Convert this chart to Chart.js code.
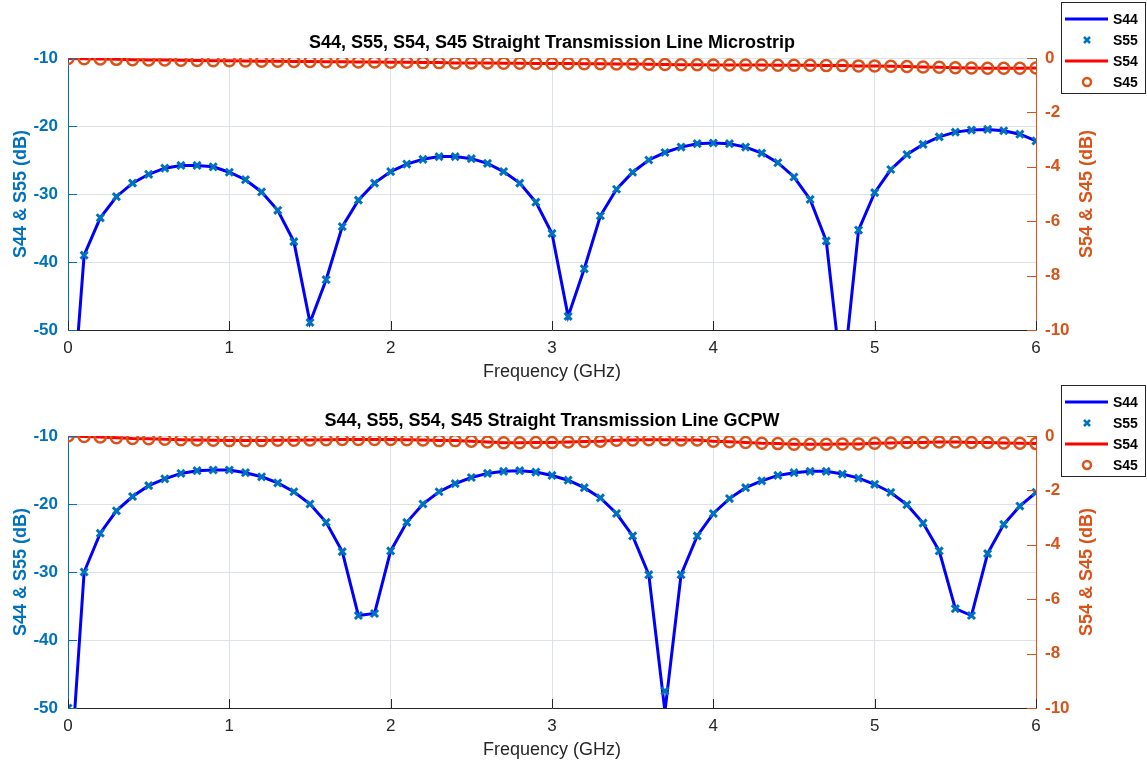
<!DOCTYPE html>
<html>
<head>
<meta charset="utf-8">
<script src="https://cdn.jsdelivr.net/npm/chart.js@4.4.0/dist/chart.umd.min.js"></script>
<style>
  html, body { margin: 0; padding: 0; background: #fff; }
  .box { position: absolute; left: 0; width: 1147px; }
</style>
</head>
<body>
<div class="box" style="top:0;height:383px"><canvas id="microstrip"></canvas></div>
<div class="box" style="top:383px;height:382px"><canvas id="gcpw"></canvas></div>
<script>
// frequency points (GHz)
var freq = [0, 0.1, 0.2, 0.3, 0.4, 0.5, 0.6, 0.7, 0.8, 0.9,
  1, 1.1, 1.2, 1.3, 1.4, 1.5, 1.6, 1.7, 1.8, 1.9,
  2, 2.1, 2.2, 2.3, 2.4, 2.5, 2.6, 2.7, 2.8, 2.9,
  3, 3.1, 3.2, 3.3, 3.4, 3.5, 3.6, 3.7, 3.8, 3.9,
  4, 4.1, 4.2, 4.3, 4.4, 4.5, 4.6, 4.7, 4.8, 4.9,
  5, 5.1, 5.2, 5.3, 5.4, 5.5, 5.6, 5.7, 5.8, 5.9, 6];

// Microstrip
var s44Micro = [-70, -39.0, -33.5, -30.4, -28.4, -27.1, -26.2, -25.8, -25.8, -26.0,
  -26.8, -27.9, -29.7, -32.4, -37.0, -48.9, -42.6, -34.8, -30.9, -28.4,
  -26.7, -25.6, -24.9, -24.5, -24.5, -24.8, -25.5, -26.7, -28.4, -31.2,
  -35.8, -48.0, -41.0, -33.2, -29.3, -26.8, -25.0, -23.9, -23.1, -22.6,
  -22.5, -22.6, -23.1, -24.0, -25.4, -27.5, -30.8, -36.9, -58, -35.3,
  -29.8, -26.4, -24.2, -22.7, -21.6, -20.9, -20.6, -20.5, -20.7, -21.2, -22.2];
var s55Micro = [-70, -39.0, -33.5, -30.4, -28.4, -27.1, -26.2, -25.8, -25.8, -26.0,
  -26.8, -27.9, -29.7, -32.4, -37.0, -48.9, -42.6, -34.8, -30.9, -28.4,
  -26.7, -25.6, -24.9, -24.5, -24.5, -24.8, -25.5, -26.7, -28.4, -31.2,
  -35.8, -48.0, -41.0, -33.2, -29.3, -26.8, -25.0, -23.9, -23.1, -22.6,
  -22.5, -22.6, -23.1, -24.0, -25.4, -27.5, -30.8, -36.9, -58, -35.3,
  -29.8, -26.4, -24.2, -22.7, -21.6, -20.9, -20.6, -20.5, -20.7, -21.2, -22.2];
var s54Micro = [-0.02, -0.03, -0.04, -0.05, -0.06, -0.07, -0.07, -0.08, -0.09, -0.10,
  -0.10, -0.11, -0.12, -0.12, -0.13, -0.13, -0.14, -0.14, -0.15, -0.15,
  -0.16, -0.16, -0.17, -0.17, -0.18, -0.18, -0.18, -0.19, -0.19, -0.20,
  -0.20, -0.20, -0.21, -0.21, -0.22, -0.22, -0.23, -0.24, -0.25, -0.25,
  -0.26, -0.26, -0.26, -0.26, -0.27, -0.27, -0.27, -0.28, -0.28, -0.29,
  -0.29, -0.30, -0.31, -0.33, -0.34, -0.36, -0.37, -0.38, -0.38, -0.38, -0.37];
var s45Micro = s54Micro; // the two transmission curves sit on top of each other

// GCPW
var s44Gcpw = [-65, -30.0, -24.3, -21.0, -18.9, -17.3, -16.3, -15.5, -15.1, -15.0,
  -15.0, -15.4, -16.0, -16.9, -18.2, -20.0, -22.7, -27.0, -36.4, -36.1,
  -26.9, -22.7, -20.0, -18.2, -17.0, -16.1, -15.5, -15.2, -15.1, -15.3,
  -15.8, -16.5, -17.6, -19.1, -21.4, -24.7, -30.4, -50.5, -30.4, -24.7,
  -21.4, -19.2, -17.6, -16.6, -15.8, -15.4, -15.2, -15.2, -15.6, -16.2,
  -17.1, -18.3, -20.1, -22.8, -26.9, -35.4, -36.4, -27.3, -23.0, -20.3, -18.3];
var s55Gcpw = [-50, -30.0, -24.3, -21.0, -18.9, -17.3, -16.3, -15.5, -15.1, -15.0,
  -15.0, -15.4, -16.0, -16.9, -18.2, -20.0, -22.7, -27.0, -36.4, -36.1,
  -26.9, -22.7, -20.0, -18.2, -17.0, -16.1, -15.5, -15.2, -15.1, -15.3,
  -15.8, -16.5, -17.6, -19.1, -21.4, -24.7, -30.4, -47.5, -30.4, -24.7,
  -21.4, -19.2, -17.6, -16.6, -15.8, -15.4, -15.2, -15.2, -15.6, -16.2,
  -17.1, -18.3, -20.1, -22.8, -26.9, -35.4, -36.4, -27.3, -23.0, -20.3, -18.3];
var s54Gcpw = [0.0, -0.02, -0.04, -0.06, -0.09, -0.10, -0.12, -0.14, -0.15, -0.16,
  -0.17, -0.17, -0.17, -0.16, -0.16, -0.15, -0.14, -0.13, -0.13, -0.13,
  -0.13, -0.14, -0.15, -0.17, -0.17, -0.19, -0.22, -0.25, -0.25, -0.24,
  -0.24, -0.22, -0.20, -0.19, -0.16, -0.15, -0.14, -0.14, -0.15, -0.15,
  -0.19, -0.21, -0.24, -0.27, -0.28, -0.30, -0.30, -0.30, -0.29, -0.29,
  -0.27, -0.26, -0.24, -0.24, -0.22, -0.22, -0.24, -0.24, -0.26, -0.27, -0.28];
var s45Gcpw = s54Gcpw;

var leftTicks = [-50, -40, -30, -20, -10];
var rightTicks = [-10, -8, -6, -4, -2, 0];

var FONT = "'Liberation Sans', Arial, Helvetica, sans-serif";
Chart.defaults.font.family = FONT;

function pts(vals) {
    return freq.map(function (f, i) { return {x: f, y: vals[i]}; });
}

// titles, inner tick marks, right y label and the legend box
var decor = {
    id: 'decor',
    afterDatasetsDraw: function (chart) {
        var ctx = chart.ctx, a = chart.chartArea, s = chart.scales;
        ctx.save();
        ctx.lineWidth = 1;
        ctx.strokeStyle = '#262626';
        s.x.ticks.forEach(function (t) {
            var px = Math.round(s.x.getPixelForValue(t.value)) + 0.5;
            ctx.beginPath(); ctx.moveTo(px, a.bottom); ctx.lineTo(px, a.bottom - 9); ctx.stroke();
        });
        ctx.strokeStyle = '#0072BD';
        s.y.ticks.forEach(function (t) {
            var py = Math.round(s.y.getPixelForValue(t.value)) + 0.5;
            ctx.beginPath(); ctx.moveTo(a.left, py); ctx.lineTo(a.left + 9, py); ctx.stroke();
        });
        ctx.strokeStyle = '#D95319';
        s.y1.ticks.forEach(function (t) {
            var py = Math.round(s.y1.getPixelForValue(t.value)) + 0.5;
            ctx.beginPath(); ctx.moveTo(a.right, py); ctx.lineTo(a.right - 9, py); ctx.stroke();
        });
        ctx.restore();
    },
    afterDraw: function (chart, args, opts) {
        var ctx = chart.ctx, a = chart.chartArea;
        ctx.save();
        ctx.fillStyle = '#000';
        ctx.font = 'bold 18px ' + FONT;
        ctx.textAlign = 'center';
        ctx.textBaseline = 'alphabetic';
        ctx.fillText(opts.title, (a.left + a.right) / 2, a.top - 10);

        ctx.translate(1087, (a.top + a.bottom) / 2);
        ctx.rotate(-Math.PI / 2);
        ctx.fillStyle = '#D95319';
        ctx.textBaseline = 'middle';
        ctx.fillText('S54 & S45 (dB)', 0, 0);
        ctx.restore();

        // legend
        ctx.save();
        ctx.fillStyle = '#fff';
        ctx.fillRect(1061.5, 2.5, 84, 91);
        ctx.strokeStyle = '#262626';
        ctx.lineWidth = 1;
        ctx.strokeRect(1061.5, 2.5, 84, 91);
        ctx.font = 'bold 14px ' + FONT;
        ctx.textAlign = 'left';
        ctx.textBaseline = 'middle';
        chart.data.datasets.forEach(function (ds, i) {
            var y = 19 + i * 21;
            if (ds.showLine !== false) {
                ctx.strokeStyle = ds.borderColor;
                ctx.lineWidth = 3;
                ctx.beginPath(); ctx.moveTo(1065, y); ctx.lineTo(1108, y); ctx.stroke();
            } else if (ds.pointStyle === 'crossRot') {
                ctx.strokeStyle = ds.borderColor;
                ctx.lineWidth = 2.5;
                ctx.beginPath();
                ctx.moveTo(1084, y - 3); ctx.lineTo(1090, y + 3);
                ctx.moveTo(1084, y + 3); ctx.lineTo(1090, y - 3);
                ctx.stroke();
            } else {
                ctx.strokeStyle = ds.borderColor;
                ctx.lineWidth = 2.5;
                ctx.beginPath(); ctx.arc(1087, y, 4, 0, Math.PI * 2); ctx.stroke();
            }
            ctx.fillStyle = '#000';
            ctx.fillText(ds.label, 1113, y + 1);
        });
        ctx.restore();
    }
};

function makeChart(id, title, s44, s55, s54, s45, padTop, padBottom) {
    return new Chart(document.getElementById(id), {
        type: 'line',
        data: {
            datasets: [{
                label: 'S44',
                data: pts(s44),
                yAxisID: 'y',
                borderColor: '#0000FF',
                borderWidth: 3,
                pointRadius: 0,
                order: 4
            }, {
                label: 'S55',
                data: pts(s55),
                yAxisID: 'y',
                showLine: false,
                pointStyle: 'crossRot',
                pointRadius: 5,
                pointBorderWidth: 3,
                borderColor: '#0072BD',
                backgroundColor: '#0072BD',
                order: 3
            }, {
                label: 'S54',
                data: pts(s54),
                yAxisID: 'y1',
                borderColor: '#FF0000',
                borderWidth: 3,
                pointRadius: 0,
                order: 2
            }, {
                label: 'S45',
                data: pts(s45),
                yAxisID: 'y1',
                showLine: false,
                pointStyle: 'circle',
                pointRadius: 5.5,
                pointBorderWidth: 2.5,
                borderColor: '#D95319',
                backgroundColor: 'rgba(0,0,0,0)',
                order: 1
            }]
        },
        options: {
            responsive: true,
            maintainAspectRatio: false,
            animation: false,
            events: [],
            layout: { padding: { top: padTop, bottom: padBottom, left: 0, right: 0 } },
            plugins: {
                legend: { display: false },
                title: { display: false },
                tooltip: { enabled: false },
                decor: { title: title }
            },
            scales: {
                x: {
                    type: 'linear',
                    min: 0,
                    max: 6,
                    ticks: { stepSize: 1, color: '#262626', font: { size: 17 }, padding: 8 },
                    grid: { color: '#dce2e8', drawTicks: false },
                    border: { color: '#262626' },
                    title: { display: true, text: 'Frequency (GHz)', color: '#262626', font: { size: 18 }, padding: 0 },
                    afterFit: function (s) { s.height = 53; }
                },
                y: {
                    position: 'left',
                    min: leftTicks[0],
                    max: leftTicks[leftTicks.length - 1],
                    afterBuildTicks: function (s) { s.ticks = leftTicks.map(function (v) { return {value: v}; }); },
                    ticks: { color: '#0072BD', font: { size: 17, weight: 'bold' }, padding: 10 },
                    grid: { color: '#dce2e8', drawTicks: false },
                    border: { color: '#0072BD' },
                    title: { display: true, text: 'S44 & S55 (dB)', color: '#0072BD', font: { size: 18, weight: 'bold' }, padding: { top: 10, bottom: 0 } },
                    afterFit: function (s) { s.width = 68; }
                },
                y1: {
                    position: 'right',
                    min: rightTicks[0],
                    max: rightTicks[rightTicks.length - 1],
                    afterBuildTicks: function (s) { s.ticks = rightTicks.map(function (v) { return {value: v}; }); },
                    ticks: { color: '#D95319', font: { size: 17, weight: 'bold' }, padding: 9 },
                    grid: { display: false, drawTicks: false },
                    border: { color: '#D95319' },
                    afterFit: function (s) { s.width = 111; }
                }
            }
        },
        plugins: [decor]
    });
}

makeChart('microstrip', 'S44, S55, S54, S45 Straight Transmission Line Microstrip',
    s44Micro, s55Micro, s54Micro, s45Micro, 58, 0);
makeChart('gcpw', 'S44, S55, S54, S45 Straight Transmission Line GCPW',
    s44Gcpw, s55Gcpw, s54Gcpw, s45Gcpw, 53, 4);
</script>
</body>
</html>
